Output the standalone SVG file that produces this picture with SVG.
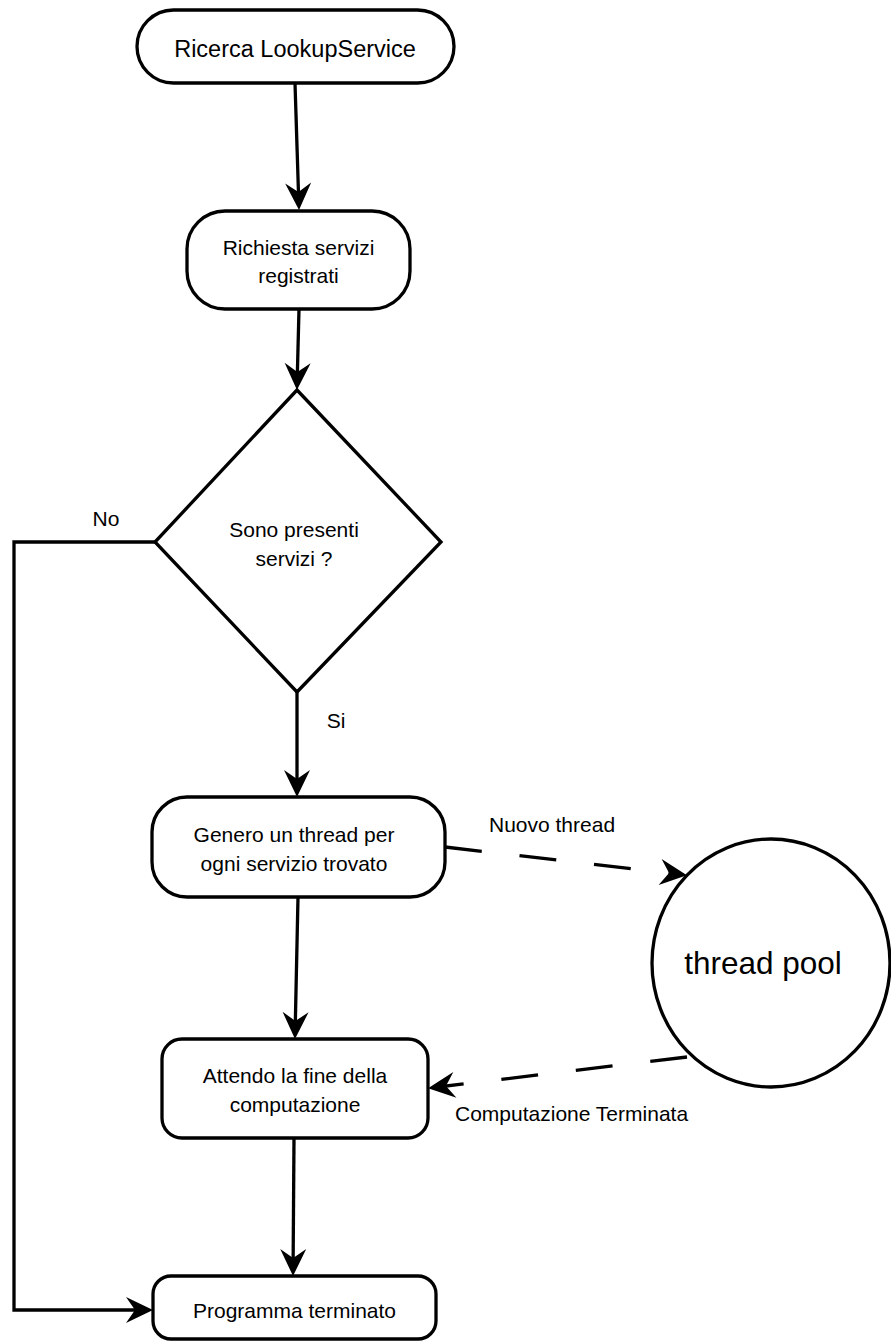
<svg xmlns="http://www.w3.org/2000/svg" width="891" height="1342" viewBox="0 0 891 1342">
  <style>
    .shape { fill: #ffffff; stroke: #000000; stroke-width: 3.3; }
    .edge { fill: none; stroke: #000000; stroke-width: 3.3; }
    .dash { stroke-dasharray: 37 38; }
    text { font-family: "Liberation Sans", Arial, sans-serif; font-size: 21px; fill: #000000; }
    .mid { text-anchor: middle; }
  </style>
  <defs>
    <!-- barbed arrowhead; tip sits 10px beyond the line end -->
    <marker id="arrow" markerUnits="userSpaceOnUse" viewBox="-18 -14 30 28" refX="0" refY="0" markerWidth="30" markerHeight="28" orient="auto">
      <path d="M10,0 L-17,-13 L-8,0 L-17,13 Z" fill="#000000"/>
    </marker>
  </defs>
  <rect width="891" height="1342" fill="#ffffff"/>

  <g id="connectors">
    <path class="edge" d="M295,83 L298.7,200" marker-end="url(#arrow)"/>
    <path class="edge" d="M299,309 L297.2,380" marker-end="url(#arrow)"/>
    <path class="edge" d="M297,692 L297,787" marker-end="url(#arrow)"/>
    <path class="edge" d="M298,897 L295.2,1029" marker-end="url(#arrow)"/>
    <path class="edge" d="M294,1138 L293.1,1266" marker-end="url(#arrow)"/>
    <path class="edge" d="M155,542 L14,542 L14,1310 L143,1310" marker-end="url(#arrow)"/>
    <path class="edge dash" d="M445,847 L677,874" marker-end="url(#arrow)"/>
    <path class="edge dash" d="M687,1057 L438,1087" marker-end="url(#arrow)"/>
    <text x="106" y="526" class="mid">No</text>
    <text x="336" y="728" class="mid">Si</text>
    <text x="489" y="832">Nuovo thread</text>
    <text x="455" y="1121">Computazione Terminata</text>
  </g>

  <g id="ricerca">
    <rect class="shape" x="137" y="10" width="317" height="73" rx="36.5"/>
    <text x="295" y="57" class="mid" style="font-size:23.5px">Ricerca LookupService</text>
  </g>

  <g id="richiesta">
    <rect class="shape" x="187" y="211" width="223" height="98" rx="38"/>
    <text x="298.5" y="255" class="mid">Richiesta servizi</text>
    <text x="298.5" y="283" class="mid">registrati</text>
  </g>

  <g id="decisione">
    <polygon class="shape" points="297,390 441,542 297,692 155,542"/>
    <text x="294" y="537" class="mid">Sono presenti</text>
    <text x="294" y="566" class="mid">servizi ?</text>
  </g>

  <g id="genero">
    <rect class="shape" x="152" y="797" width="293" height="100" rx="35"/>
    <text x="294" y="842" class="mid">Genero un thread per</text>
    <text x="294" y="871" class="mid">ogni servizio trovato</text>
  </g>

  <g id="threadpool">
    <ellipse class="shape" cx="771" cy="963" rx="119" ry="124"/>
    <text x="763" y="974" class="mid" style="font-size:31.5px">thread pool</text>
  </g>

  <g id="attendo">
    <rect class="shape" x="162" y="1039" width="266" height="99" rx="20"/>
    <text x="295" y="1083" class="mid">Attendo la fine della</text>
    <text x="295" y="1112" class="mid">computazione</text>
  </g>

  <g id="terminato">
    <rect class="shape" x="153" y="1276" width="283" height="63" rx="18"/>
    <text x="294.5" y="1318" class="mid">Programma terminato</text>
  </g>
</svg>
